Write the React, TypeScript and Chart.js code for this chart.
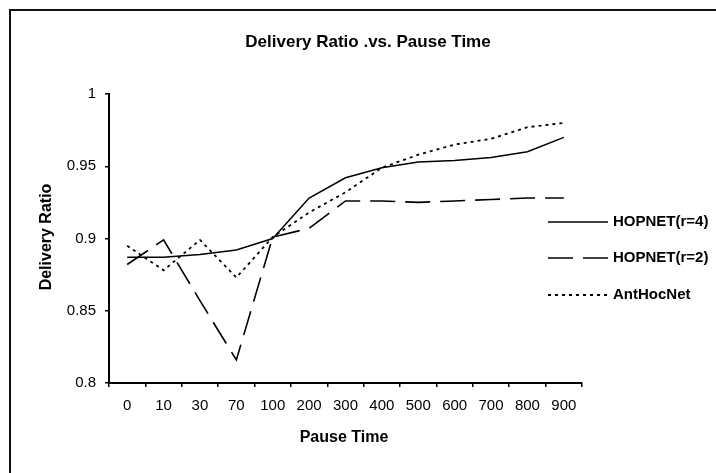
import React, { useEffect, useRef } from "react";
import { Chart, registerables } from "chart.js";

Chart.register(...registerables);

const categories = ["0", "10", "30", "70", "100", "200", "300", "400", "500", "600", "700", "800", "900"];
const hopnetR4 = [0.887, 0.887, 0.889, 0.892, 0.900, 0.928, 0.942, 0.949, 0.953, 0.954, 0.956, 0.960, 0.970];
const hopnetR2 = [0.882, 0.899, 0.857, 0.816, 0.901, 0.907, 0.926, 0.926, 0.925, 0.926, 0.927, 0.928, 0.928];
const antHocNet = [0.895, 0.878, 0.899, 0.873, 0.901, 0.918, 0.932, 0.949, 0.958, 0.965, 0.969, 0.977, 0.980];
const seriesNames = ["HOPNET(r=4)", "HOPNET(r=2)", "AntHocNet"];
const yTicks = { min: 0.8, max: 1, step: 0.05 };

const FONT = "'Liberation Sans', Arial, sans-serif";

const overlayPlugin = {
  id: "overlay",
  afterDraw(chart: any) {
    const ctx = chart.ctx;
    ctx.save();
    ctx.fillStyle = "#000";
    ctx.textBaseline = "middle";
    // title
    ctx.font = `bold 17px ${FONT}`;
    ctx.textAlign = "center";
    ctx.fillText("Delivery Ratio .vs. Pause Time", 368, 42);
    // x title
    ctx.font = `bold 16px ${FONT}`;
    ctx.fillText("Pause Time", 344, 438);
    // y title
    ctx.save();
    ctx.translate(47, 237);
    ctx.rotate(-Math.PI / 2);
    ctx.fillText("Delivery Ratio", 0, 0);
    ctx.restore();
    // legend
    const rows = [222, 258, 295];
    chart.data.datasets.forEach((ds: any, i: number) => {
      const y = rows[i];
      ctx.save();
      ctx.strokeStyle = "#000";
      ctx.lineWidth = ds.borderWidth;
      ctx.setLineDash(ds.borderDash || []);
      ctx.beginPath();
      ctx.moveTo(548, y);
      ctx.lineTo(608, y);
      ctx.stroke();
      ctx.restore();
      ctx.font = `bold 15px ${FONT}`;
      ctx.textAlign = "left";
      ctx.fillText(ds.label, 613, y);
    });
    ctx.restore();
  },
};

export default function App() {
  const ref = useRef<HTMLCanvasElement>(null);
  useEffect(() => {
    document.body.style.margin = "0";
    const chart = new Chart(ref.current as HTMLCanvasElement, {
      type: "line",
      data: {
        labels: categories,
        datasets: [
          { label: seriesNames[0], data: hopnetR4, borderColor: "#000", borderWidth: 1.5, pointRadius: 0, tension: 0, fill: false },
          { label: seriesNames[1], data: hopnetR2, borderColor: "#000", borderWidth: 1.6, borderDash: [25, 10], pointRadius: 0, tension: 0, fill: false },
          { label: seriesNames[2], data: antHocNet, borderColor: "#000", borderWidth: 1.8, borderDash: [3, 4], pointRadius: 0, tension: 0, fill: false },
        ],
      },
      options: {
        responsive: false,
        animation: false,
        layout: { padding: { left: 0, top: 94, right: 134, bottom: 0 } },
        plugins: { legend: { display: false }, title: { display: false }, tooltip: { enabled: false } },
        scales: {
          x: {
            type: "category",
            offset: true,
            grid: { display: true, drawOnChartArea: false, offset: true, tickLength: 4, color: "#000", lineWidth: 1.5 },
            border: { display: true, color: "#000", width: 2 },
            ticks: { color: "#000", font: { size: 15, family: FONT }, padding: 10, maxRotation: 0, autoSkip: false },
            afterFit: (s: any) => { s.height = 90; },
          },
          y: {
            min: yTicks.min,
            max: yTicks.max,
            grid: { display: true, drawOnChartArea: false, tickLength: 4, color: "#000", lineWidth: 1.5 },
            border: { display: true, color: "#000", width: 2 },
            ticks: {
              stepSize: yTicks.step,
              color: "#000",
              font: { size: 15, family: FONT },
              padding: 9,
              callback: (v: any) => String(parseFloat(Number(v).toFixed(2))),
            },
            afterFit: (s: any) => { s.width = 109; },
          },
        },
      },
      plugins: [overlayPlugin],
    } as any);
    return () => chart.destroy();
  }, []);
  return (
    <div style={{ position: "fixed", left: 0, top: 0, width: 716, height: 473, background: "#fff" }}>
      <div style={{ position: "absolute", left: 9, top: 9, width: 720, height: 480, borderLeft: "2px solid #111", borderTop: "2px solid #111" }} />
      <canvas ref={ref} width={716} height={473} style={{ position: "absolute", left: 0, top: 0 }} />
    </div>
  );
}
